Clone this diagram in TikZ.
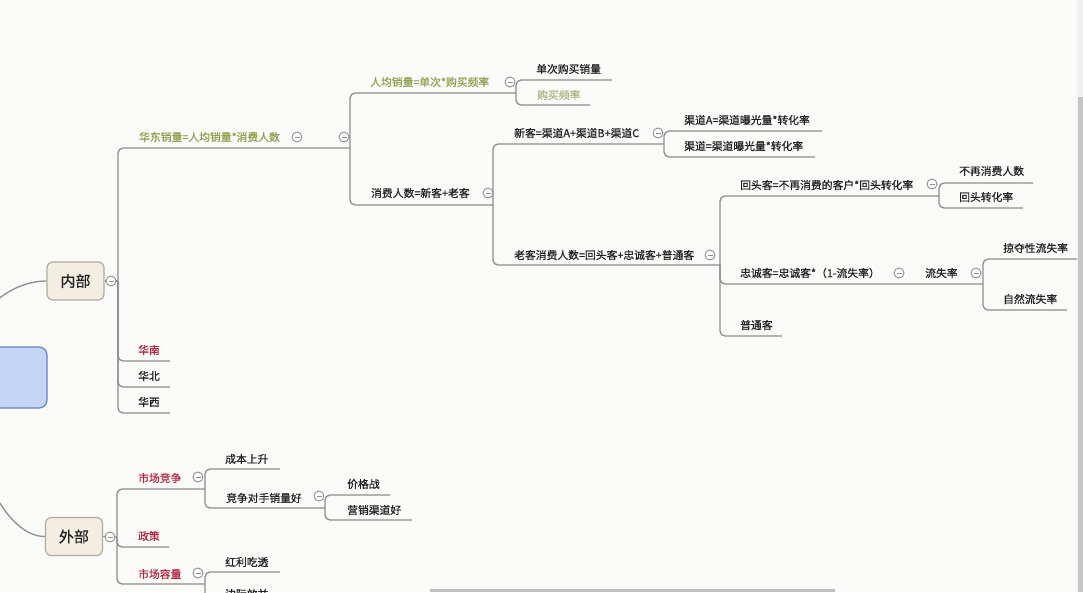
\documentclass[tikz,border=0pt]{standalone}
\usepackage{fontspec}
\newfontfamily\cjk[FakeBold=0.6]{Noto Sans CJK SC}
\definecolor{bg}{HTML}{FAFAF8}
\definecolor{ln}{HTML}{8E8E8E}
\definecolor{grn}{HTML}{8FA04E}
\definecolor{lgrn}{HTML}{ABB783}
\definecolor{rd}{HTML}{B22740}
\definecolor{tx}{HTML}{222222}
\definecolor{rootfill}{HTML}{C4D5F6}
\definecolor{rootedge}{HTML}{6383C9}
\definecolor{boxfill}{HTML}{F3EDE2}
\definecolor{boxedge}{HTML}{B3AA9C}
\begin{document}
\begin{tikzpicture}[x=1pt,y=-1pt,
  conn/.style={draw=ln, line width=1.3pt, rounded corners=5pt},
  curveconn/.style={draw=ln, line width=1.3pt},
  lbl/.style={anchor=west, inner sep=0pt, font=\cjk\fontsize{10.8}{12}\selectfont, text=tx},
  redlbl/.style={lbl, text=rd},
  grnlbl/.style={lbl, text=grn},
  lgrnlbl/.style={lbl, text=lgrn},
  rootbox/.style={draw=rootedge, fill=rootfill, line width=1.2pt, rounded corners=8pt,
    minimum width=154pt, minimum height=61pt},
  topbox/.style={draw=boxedge, fill=boxfill, line width=1.2pt, rounded corners=6pt,
    minimum width=57pt, minimum height=38pt, inner sep=0pt,
    font=\cjk\fontsize{15}{17}\selectfont, text=tx},
  collapse/.style={circle, draw=ln, fill=white, line width=0.9pt, minimum size=10pt, inner sep=0pt,
    path picture={\draw[ln, line width=0.8pt]
      ([xshift=-2.5pt]path picture bounding box.center) -- ([xshift=2.5pt]path picture bounding box.center);}}
]
\fill[bg] (0,0) rectangle (1083,592);
\clip (0,0) rectangle (1083,592);

% root and first level boxes
\node[rootbox] (root) at (-30,377.5) {};
\node[topbox] (nb) at (75.5,281) {内部};
\node[topbox] (wb) at (74,536.5) {外部};
\draw[curveconn] (root.north) .. controls (-22,305) and (15,281) .. (nb.west);
\draw[curveconn] (root.south) .. controls (-20,490) and (15,537) .. (wb.west);

% junction / end coordinates
\coordinate (s-nb) at (118,281);
\coordinate (s-hd) at (350,148);
\coordinate (s-rj) at (516,93);
\coordinate (s-xf) at (493,205);
\coordinate (e-dc) at (612,80);
\coordinate (e-gm) at (590,105);
\coordinate (s-xk) at (664,144);
\coordinate (s-lk) at (720,265);
\coordinate (e-qa) at (822,131);
\coordinate (e-qb) at (815,157);
\coordinate (s-ht) at (939,196);
\coordinate (s-zc) at (983,284);
\coordinate (e-pt) at (782,336);
\coordinate (e-bz) at (1033,183);
\coordinate (e-hz) at (1023,208);
\coordinate (e-ld) at (1077,259);
\coordinate (e-zr) at (1067,310);
\coordinate (e-hn) at (170,361);
\coordinate (e-hb) at (170,387);
\coordinate (e-hx) at (170,413);
\coordinate (s-wb) at (117,537);
\coordinate (s-sc) at (205,489);
\coordinate (e-zce) at (169,547);
\coordinate (s-rl) at (205,584);
\coordinate (e-cb) at (280,469);
\coordinate (s-jz) at (325,508);
\coordinate (e-jg) at (390,495);
\coordinate (e-yx) at (412,520);
\coordinate (e-hl) at (280,572);
\coordinate (e-bj) at (280,598);

% connectors
\draw[conn] (nb.east) -- (s-nb);
\foreach \c in {s-hd,e-hn,e-hb,e-hx} \draw[conn] (s-nb) |- (\c);
\foreach \c in {s-rj,s-xf} \draw[conn] (s-hd) |- (\c);
\foreach \c in {e-dc,e-gm} \draw[conn] (s-rj) |- (\c);
\foreach \c in {s-xk,s-lk} \draw[conn] (s-xf) |- (\c);
\foreach \c in {e-qa,e-qb} \draw[conn] (s-xk) |- (\c);
\foreach \c in {s-ht,s-zc,e-pt} \draw[conn] (s-lk) |- (\c);
\foreach \c in {e-bz,e-hz} \draw[conn] (s-ht) |- (\c);
\foreach \c in {e-ld,e-zr} \draw[conn] (s-zc) |- (\c);
\draw[conn] (wb.east) -- (s-wb);
\foreach \c in {s-sc,e-zce,s-rl} \draw[conn] (s-wb) |- (\c);
\foreach \c in {e-cb,s-jz} \draw[conn] (s-sc) |- (\c);
\foreach \c in {e-jg,e-yx} \draw[conn] (s-jz) |- (\c);
\foreach \c in {e-hl,e-bj} \draw[conn] (s-rl) |- (\c);

% collapse markers
\node[collapse] (c-nb) at (111,281) {};
\node[collapse] (c-wb) at (110,537) {};
\node[collapse] (c-hd1) at (297,137) {};
\node[collapse] (c-hd2) at (344,137) {};
\node[collapse] (c-rj) at (510,82) {};
\node[collapse] (c-xf) at (488,193) {};
\node[collapse] (c-xk) at (658,133) {};
\node[collapse] (c-lk) at (710,255) {};
\node[collapse] (c-ht) at (932,184) {};
\node[collapse] (c-zc) at (899,273) {};
\node[collapse] (c-ls) at (976,273) {};
\node[collapse] (c-sc) at (198,477) {};
\node[collapse] (c-jz) at (319,496) {};
\node[collapse] (c-rl) at (198,573) {};

% labels
\node[grnlbl] (t-hd) at (139,137) {华东销量=人均销量*消费人数};
\node[grnlbl] (t-rj) at (370,82) {人均销量=单次*购买频率};
\node[lbl] (t-dc) at (536,69) {单次购买销量};
\node[lgrnlbl] (t-gm) at (537,95) {购买频率};
\node[lbl] (t-xf) at (371,193) {消费人数=新客+老客};
\node[lbl] (t-xk) at (514,133) {新客=渠道A+渠道B+渠道C};
\node[lbl] (t-qa) at (684,120) {渠道A=渠道曝光量*转化率};
\node[lbl] (t-qb) at (684,146) {渠道=渠道曝光量*转化率};
\node[lbl] (t-lk) at (514,255) {老客消费人数=回头客+忠诚客+普通客};
\node[lbl] (t-ht) at (740,185) {回头客=不再消费的客户*回头转化率};
\node[lbl] (t-bz) at (959,171) {不再消费人数};
\node[lbl] (t-hz) at (959,197) {回头转化率};
\node[lbl] (t-zc) at (740,273) {忠诚客=忠诚客*（1-流失率）};
\node[lbl] (t-ls) at (925,273) {流失率};
\node[lbl] (t-ld) at (1003,248) {掠夺性流失率};
\node[lbl] (t-zr) at (1003,299) {自然流失率};
\node[lbl] (t-pt) at (740,325) {普通客};
\node[redlbl] (t-hn) at (138,350) {华南};
\node[lbl] (t-hb) at (138,376) {华北};
\node[lbl] (t-hx) at (138,402) {华西};
\node[redlbl] (t-sc) at (138,478) {市场竞争};
\node[lbl] (t-cb) at (225,459) {成本上升};
\node[lbl] (t-jz) at (226,498) {竞争对手销量好};
\node[lbl] (t-jg) at (347,484) {价格战};
\node[lbl] (t-yx) at (347,510) {营销渠道好};
\node[redlbl] (t-zce) at (138,536) {政策};
\node[redlbl] (t-rl) at (138,574) {市场容量};
\node[lbl] (t-hl) at (225,562) {红利吃透};
\node[lbl] (t-bj) at (225,594) {边际效益};

% window scrollbars
\fill[gray!12] (1077,0) rectangle (1083,592);
\fill[gray!45] (1078,97) rectangle (1083,592);
\fill[gray!50] (430,589) rectangle (835,592);
\end{tikzpicture}
\end{document}
